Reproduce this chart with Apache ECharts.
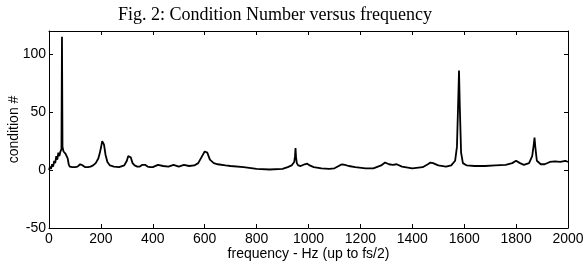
<!DOCTYPE html>
<html>
<head>
<meta charset="utf-8">
<script src="https://cdn.jsdelivr.net/npm/echarts@6/dist/echarts.min.js"></script>
<style>
  html, body { margin: 0; padding: 0; background: #fff; }
  #chart { width: 583px; height: 270px; }
</style>
</head>
<body>
<div id="chart"></div>
<script>
  // frequency (Hz) and condition number
  var freq = [
    0, 4, 8, 12, 16, 20, 24, 28, 32, 36,
    40, 44, 48, 50, 52, 56, 60, 64, 68, 72,
    76, 80, 90, 100, 110, 120, 125, 130, 140, 150,
    160, 170, 180, 190, 195, 200, 205, 208, 212, 218,
    225, 235, 250, 270, 290, 300, 305, 310, 315, 322,
    330, 340, 350, 360, 365, 370, 380, 390, 400, 420,
    440, 460, 480, 500, 520, 540, 560, 575, 590, 600,
    605, 610, 620, 635, 650, 680, 700, 750, 800, 850,
    900, 920, 935, 945, 948, 950, 952, 955, 960, 970,
    985, 995, 1005, 1020, 1050, 1080, 1100, 1120, 1130, 1140,
    1155, 1180, 1220, 1250, 1280, 1295, 1310, 1325, 1340, 1360,
    1400, 1440, 1460, 1470, 1480, 1500, 1530, 1550, 1565, 1572,
    1577, 1580, 1583, 1588, 1595, 1610, 1640, 1680, 1720, 1760,
    1785, 1800, 1815, 1830, 1850, 1862, 1868, 1871, 1874, 1880,
    1895, 1910, 1930, 1950, 1970, 1990, 2000
  ];
  var cond = [
    0, 3, 1, 5, 3, 8, 6, 12, 9, 15,
    12, 16, 18, 115, 20, 16, 17, 14, 15, 10,
    5, 3, 2.5, 2.5, 3, 5, 5.5, 4, 2.5, 2.5,
    3, 4, 6, 10, 14, 19, 25, 26, 22, 13,
    7, 4, 3, 2.5, 4, 8, 12, 13, 11, 6,
    4, 3, 3, 4.5, 5, 4.5, 3, 2.5, 2.5, 4.5,
    3.5, 3, 4.5, 3, 4.5, 3.5, 4, 6, 12, 16,
    17, 15, 9, 6, 5, 4, 3.5, 2.5, 1, 0.5,
    1, 2.5, 4, 7, 12, 19, 11, 6, 4, 3.5,
    5, 5.5, 4, 2.5, 1.5, 1, 1.5, 4, 5, 4.5,
    3.5, 2.5, 1.5, 1.5, 4, 6.5, 5, 4.5, 5, 3,
    1.5, 2.5, 5, 6.5, 6, 4, 3, 4, 8, 20,
    60, 86, 55, 15, 6, 4, 3.5, 3.5, 4, 4.5,
    6, 8, 6, 4.5, 6, 12, 22, 28, 20, 8,
    5, 5, 7, 7.5, 7, 8, 7
  ];
  var xTicks = [0, 200, 400, 600, 800, 1000, 1200, 1400, 1600, 1800, 2000];
  var yTicks = [-50, 0, 50, 100];

  var chart = echarts.init(document.getElementById('chart'));
  var labelFont = { color: '#000', fontFamily: 'Liberation Sans', fontSize: 14 };
  var lineStyle = { color: '#000', width: 1 };

  var option = {
    animation: false,
    title: {
      text: 'Fig. 2: Condition Number versus frequency',
      left: 113,
      top: 1,
      textStyle: { fontFamily: 'Liberation Serif', fontWeight: 'normal', fontSize: 18, color: '#000' }
    },
    grid: { left: 49, right: 15, top: 31, bottom: 42, outerBoundsMode: 'none' },
    xAxis: [
      {
        type: 'value', min: xTicks[0], max: xTicks[xTicks.length - 1], interval: 200,
        name: 'frequency - Hz (up to fs/2)', nameLocation: 'middle', nameGap: 19,
        nameMoveOverlap: false,
        nameTextStyle: labelFont,
        axisLine: { onZero: false, lineStyle: lineStyle },
        axisTick: { inside: true, length: 4, lineStyle: lineStyle },
        axisLabel: Object.assign({ margin: 4, formatter: function (v) { return String(v); } }, labelFont),
        splitLine: { show: false }
      },
      {
        type: 'value', position: 'top', min: 0, max: 2000, interval: 200,
        axisLine: { show: true, onZero: false, lineStyle: lineStyle },
        axisTick: { inside: true, length: 4, lineStyle: lineStyle },
        axisLabel: { show: false },
        splitLine: { show: false }
      }
    ],
    yAxis: [
      {
        type: 'value', min: yTicks[0], max: 120, interval: 50,
        name: 'condition #', nameLocation: 'middle', nameGap: 28,
        nameMoveOverlap: false,
        nameTextStyle: labelFont,
        axisLine: { show: true, onZero: false, lineStyle: lineStyle },
        axisTick: { inside: true, length: 4, lineStyle: lineStyle },
        axisLabel: Object.assign({ margin: 3, showMaxLabel: false }, labelFont),
        splitLine: { show: false }
      },
      {
        type: 'value', position: 'right', min: -50, max: 120, interval: 50,
        axisLine: { show: true, onZero: false, lineStyle: lineStyle },
        axisTick: { inside: true, length: 4, lineStyle: lineStyle },
        axisLabel: { show: false },
        splitLine: { show: false }
      }
    ],
    series: [{
      type: 'line',
      data: freq.map(function (f, i) { return [f, cond[i]]; }),
      showSymbol: false,
      lineStyle: { color: '#000', width: 1.8 }
    }]
  };
  chart.setOption(option);
</script>
</body>
</html>
